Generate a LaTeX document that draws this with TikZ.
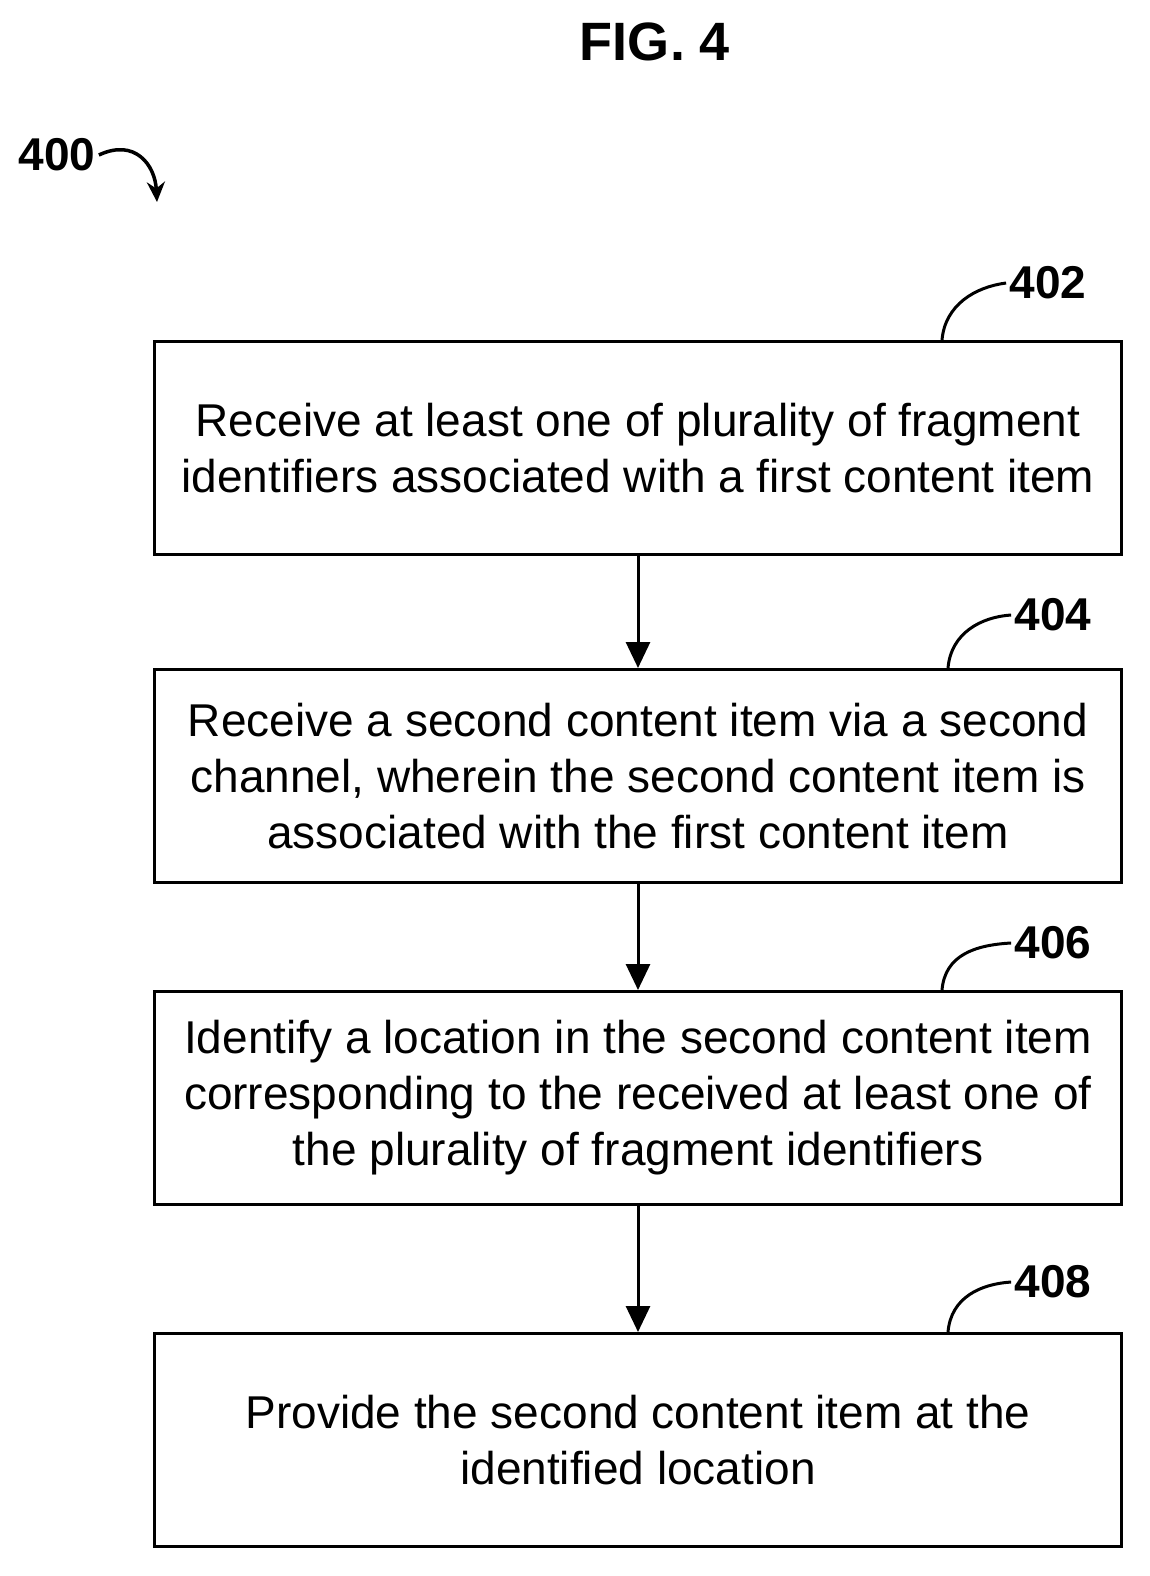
\documentclass[tikz,border=0pt]{standalone}
\usepackage{fontspec}
\setmainfont{Liberation Sans}
\usetikzlibrary{arrows.meta}
\begin{document}
\begin{tikzpicture}[x=1pt,y=-1pt,
 box/.style={draw,line width=3pt,minimum width=967pt,minimum height=213pt,anchor=north west,inner sep=0pt,
   font=\fontsize{46}{56}\selectfont,align=center},
 lbl/.style={font=\bfseries\fontsize{46}{50}\selectfont},
 arr/.style={line width=3pt,-{Triangle[length=26pt,width=24pt]}}]
\useasboundingbox (0,0) rectangle (1149,1576);
\node[font=\bfseries\fontsize{54}{58}\selectfont] (fig) at (655,42) {FIG. 4};
\node[lbl] (n400) at (57,155) {400};
\coordinate (e400) at (157,202);
\draw[line width=3.5pt,-{Stealth[length=20pt,width=18pt]}] (n400.east) .. controls (135,138) and (155,165) .. (e400);
\node[box] (b1) at (153,340) {Receive at least one of plurality of fragment\\identifiers associated with a first content item};
\node[box] (b2) at (153,668) {Receive a second content item via a second\\channel, wherein the second content item is\\associated with the first content item};
\node[box] (b3) at (153,990) {Identify a location in the second content item\\corresponding to the received at least one of\\the plurality of fragment identifiers};
\node[box] (b4) at (153,1332) {Provide the second content item at the\\identified location};
\draw[arr] (b1.south) -- (b2.north);
\draw[arr] (b2.south) -- (b3.north);
\draw[arr] (b3.south) -- (b4.north);
\node[lbl] (l402) at (1048,283) {402};
\node[lbl] (l404) at (1053,615) {404};
\node[lbl] (l406) at (1053,943) {406};
\node[lbl] (l408) at (1053,1282) {408};
\coordinate (c1) at (942,340); \coordinate (c2) at (948,668); \coordinate (c3) at (942,990); \coordinate (c4) at (948,1332);
\draw[line width=3pt] (c1) .. controls (945,305) and (975,287) .. (l402.west);
\draw[line width=3pt] (c2) .. controls (951,633) and (981,617) .. (l404.west);
\draw[line width=3pt] (c3) .. controls (945,955) and (975,945) .. (l406.west);
\draw[line width=3pt] (c4) .. controls (951,1297) and (981,1284) .. (l408.west);
\end{tikzpicture}
\end{document}
